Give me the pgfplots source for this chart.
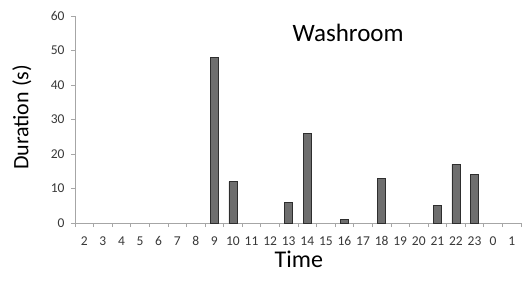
\documentclass[border=0pt]{standalone}
\usepackage{fontspec}
\setmainfont{Carlito}
\usepackage{pgfplots}
\pgfplotsset{compat=1.18}
\definecolor{barfill}{HTML}{6E6E6E}
\definecolor{bardraw}{HTML}{2E2E2E}
\definecolor{axisgray}{HTML}{A6A6A6}
\definecolor{textgray}{HTML}{383838}
\begin{document}
\begin{tikzpicture}[x=1pt,y=1pt]
\useasboundingbox (0,0) rectangle (522,282);
\begin{axis}[
  at={(75pt,59pt)}, anchor=south west,
  scale only axis, width=446pt, height=207pt,
  xmin=-0.5, xmax=23.5, ymin=0, ymax=60,
  axis lines=left, axis line style={-, axisgray, line width=0.8pt},
  xtick={0,...,23},
  xticklabels={2,3,4,5,6,7,8,9,10,11,12,13,14,15,16,17,18,19,20,21,22,23,0,1},
  minor xtick={-0.5,0.5,...,23.5},
  ytick={0,10,...,60}, minor ytick={0,10,...,60},
  major tick length=0pt, minor tick length=4pt, tick align=outside,
  tick style={axisgray, line width=0.8pt},
  /pgf/number format/assume math mode=true,
  xticklabel style={anchor=center, yshift=-18pt, font=\fontsize{13.5}{15}\selectfont, text=textgray},
  yticklabel style={anchor=east, xshift=-7pt, font=\fontsize{13.5}{15}\selectfont, text=textgray},
  xlabel={Time}, ylabel={Duration (s)},
  xlabel style={at={(axis description cs:0.502,-0.174)}, anchor=center, font=\fontsize{24}{28}\selectfont, text=black},
  ylabel style={at={(axis description cs:-0.119,0.51)}, anchor=center, rotate=0, font=\fontsize{22}{26}\selectfont, text=black},
  ybar, bar width=8pt,
  clip=false,
]
\addplot[fill=barfill, draw=bardraw, line width=0.7pt] coordinates {
 (7,48) (8,12) (11,6) (12,26) (14,1) (16,13) (19,5) (20,17) (21,14)
};
\node[font=\fontsize{25}{30}\selectfont, text=black] at (axis cs:14.2,55.2) {Washroom};
\end{axis}
\end{tikzpicture}
\end{document}
